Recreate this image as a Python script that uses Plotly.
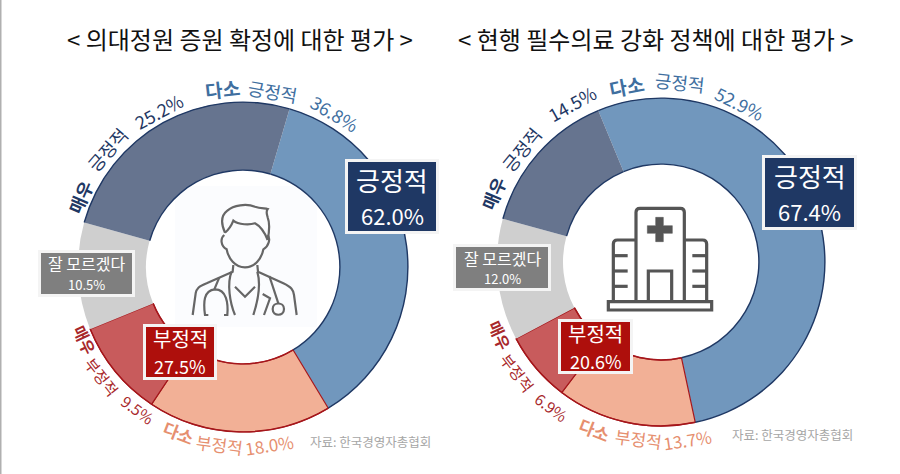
import math
import re
import plotly.graph_objects as go

W, H = 900, 474
categories = ["다소 긍정적", "다소 부정적", "매우 부정적", "잘 모르겠다", "매우 긍정적"]
left_values = [36.8, 18.0, 9.5, 10.5, 25.2]
right_values = [52.9, 13.7, 6.9, 12.0, 14.5]
left_title = "< 의대정원 증원 확정에 대한 평가 >"
right_title = "< 현행 필수의료 강화 정책에 대한 평가 >"
source = "자료: 한국경영자총협회"

FONT = "Noto Sans CJK KR"
fills = ["#7197BD", "#F2B096", "#C85B5C", "#CFCFCF", "#66748F"]
NAVY, RED = "#1F3864", "#A5161B"
CLEAR = "rgba(0,0,0,0)"
ring_colors = [NAVY, RED, RED, CLEAR, NAVY]
txt_colors = {"up": "#3F6F9F", "top": "#1F3864", "low": "#A8282B", "ow": "#E68F6F"}


def domain(cx, cy, r):
    return dict(x=[(cx - r) / W, (cx + r) / W], y=[1 - (cy + r) / H, 1 - (cy - r) / H])


def donut(values, cx, cy, r_out, r_in, rot):
    traces = [go.Pie(labels=categories, values=values, sort=False, direction="clockwise", rotation=rot,
                     hole=r_in / r_out, domain=domain(cx, cy, r_out), textinfo="none", showlegend=False,
                     hoverinfo="label+value",
                     marker=dict(colors=fills, line=dict(color=["#7197BD", RED, RED, "#CFCFCF", "#66748F"],
                                                         width=[0, 1.2, 1.2, 0, 0])))]
    for r in (r_out + 0.6, r_in + 0.6):
        traces.append(go.Pie(labels=categories, values=values, sort=False, direction="clockwise", rotation=rot,
                             hole=(r - 1.4) / r, domain=domain(cx, cy, r), textinfo="none", showlegend=False,
                             hoverinfo="skip", marker=dict(colors=ring_colors, line=dict(width=0))))
    return traces


L = (243, 267, 165, 97, 16.4)
R = (661, 262, 164, 98, -22.5)
fig = go.Figure(donut(left_values, *L) + donut(right_values, *R))

ann = []


def text(x, y, t, size, color, angle=0, weight=None):
    if weight:
        t = f"<b>{t}</b>"
    ann.append(dict(x=x, y=y, xref="x", yref="y", text=t, showarrow=False, textangle=angle,
                    font=dict(family=FONT, size=size, color=color), xanchor="center", yanchor="middle"))


def arc(center, d, pos, t, size, color, weight=None, bottom=False):
    cx, cy = center
    a = math.radians(pos)
    if bottom:
        text(cx - d * math.sin(a), cy + d * math.cos(a), t, size, color, pos, weight)
    else:
        text(cx + d * math.sin(a), cy - d * math.cos(a), t, size, color, pos, weight)


c = (243, 267)
arc(c, 180, -6.4, "다소", 19, txt_colors["up"], True)
arc(c, 179, 9.7, "긍정적", 18, txt_colors["up"])
arc(c, 179, 30.8, "36.8%", 18, txt_colors["up"])
arc(c, 177, -66.8, "매우", 18, txt_colors["top"], True)
arc(c, 180, -49, "긍정적", 18, txt_colors["top"])
arc(c, 177, -28.5, "25.2%", 18, txt_colors["top"])
arc(c, 178, 21.2, "다소", 17, txt_colors["ow"], True, True)
arc(c, 179, 7.4, "부정적", 17, txt_colors["ow"], None, True)
arc(c, 180, -8.6, "18.0%", 17, txt_colors["ow"], None, True)
arc(c, 174, 65.2, "매우", 16, txt_colors["low"], True, True)
arc(c, 178, 52, "부정적", 15.5, txt_colors["low"], None, True)
arc(c, 177, 36.5, "9.5%", 15.5, txt_colors["low"], None, True)

c = (661, 262)
arc(c, 180, -10.9, "다소", 19, txt_colors["up"], True)
arc(c, 181, 6, "긍정적", 18, txt_colors["up"])
arc(c, 177.5, 26.4, "52.9%", 18, txt_colors["up"])
arc(c, 181, -67.7, "매우", 18, txt_colors["top"], True)
arc(c, 180, -51, "긍정적", 18, txt_colors["top"])
arc(c, 182, -29.2, "14.5%", 18, txt_colors["top"])
arc(c, 180, 21.6, "다소", 17, txt_colors["ow"], True, True)
arc(c, 178, 7.4, "부정적", 17, txt_colors["ow"], None, True)
arc(c, 179, -8.4, "13.7%", 17, txt_colors["ow"], None, True)
arc(c, 177, 65.6, "매우", 16, txt_colors["low"], True, True)
arc(c, 181.5, 52.5, "부정적", 15.5, txt_colors["low"], None, True)
arc(c, 181, 37, "6.9%", 15.5, txt_colors["low"], None, True)

text(240, 38, left_title, 24, "#111111")
text(655.5, 38, right_title, 24, "#111111")
text(370, 441, source, 12.5, "#A6A6A6")
text(792.5, 434, source, 12.5, "#A6A6A6")

shapes = [dict(type="rect", x0=0, x1=1.5, y0=0, y1=H, line=dict(width=0), fillcolor="#B0B0B0", layer="above"),
          dict(type="rect", x0=175, x1=317, y0=186, y1=327, line=dict(width=0), fillcolor="#FBFCFE", layer="below")]


def box(x0, y0, x1, y1, fill):
    shapes.append(dict(type="rect", x0=x0 + 1.5, y0=y0 + 1.5, x1=x1 - 1.5, y1=y1 - 1.5, fillcolor=fill,
                       line=dict(color="#F4F4F4", width=3), layer="above"))


box(345, 159, 439, 234, "#1F3864")
text(392, 179.5, "긍정적", 26, "white")
text(392, 215, "62.0%", 22, "white")
box(762, 155, 857, 230, "#1F3864")
text(809.5, 175.5, "긍정적", 26, "white")
text(809.5, 211, "67.4%", 22, "white")
box(38, 250, 135, 297, "#7F7F7F")
text(86.5, 263, "잘 모르겠다", 16, "white")
text(86.5, 284, "10.5%", 13, "white")
box(453, 244, 551, 291, "#7F7F7F")
text(502, 258, "잘 모르겠다", 16, "white")
text(502, 278, "12.0%", 13, "white")
box(143, 324, 217, 380, "#AE0F0C")
text(180, 338, "부정적", 20, "white")
text(180, 366, "27.5%", 18, "white")
box(558, 319, 633, 374, "#AE0F0C")
text(595.5, 333, "부정적", 20, "white")
text(595.5, 361, "20.6%", 18, "white")


def icon(path, ox, oy, color, width, fill=None):
    nums = iter(re.findall(r"[A-Za-z]|-?\d+\.?\d*", path))
    out, is_x = [], True
    for tok in nums:
        if tok.isalpha():
            out.append(tok)
            is_x = True
        else:
            out.append(f"{float(tok) / 3 + (ox if is_x else oy):.2f}")
            is_x = not is_x
    d = dict(type="path", path=" ".join(out), line=dict(color=color, width=width), layer="above")
    d["fillcolor"] = fill if fill else CLEAR
    shapes.append(d)


doctor = [
    "M165,128 C150,95 155,75 172,62 C190,45 230,40 255,50 C270,55 285,55 293,57 C287,65 290,70 293,82 C300,100 298,125 293,150",
    "M165,128 C175,120 185,105 190,92 C205,105 240,105 255,100 C270,108 285,130 293,150",
    "M163,135 C150,145 152,168 170,178 C175,205 195,232 225,232 C255,232 275,205 280,178 C297,168 302,145 293,135",
    "M190,225 L188,245 L110,280 C85,290 80,295 77,310 L68,375",
    "M262,225 L264,245 L340,280 C365,292 370,300 372,315 L380,375",
    "M185,245 C170,280 180,340 195,375",
    "M262,245 C272,280 268,320 250,375",
    "M195,290 L225,320 L255,290",
    "M148,262 L133,298",
    "M115,375 L105,375 C100,340 100,300 135,298 C170,298 175,340 172,375 L162,375",
    "M298,258 L325,340",
    "M278,312 L300,325 L282,375",
    "M308,357 C308,335 342,335 342,357 C342,380 308,380 308,357",
]
for p in doctor:
    icon(p, 170, 190, "#666666", 2.2)

hospital = [
    "M40,320 L350,320 L350,345 L40,345 Z",
    "M123,320 L123,52 Q123,40 135,40 L256,40 Q268,40 268,52 L268,320",
    "M123,135 L67,135 Q55,135 55,147 L55,320",
    "M268,135 L323,135 Q335,135 335,147 L335,320",
    "M55,182 L98,182", "M55,228 L98,228", "M55,274 L98,274",
    "M292,182 L335,182", "M292,228 L335,228", "M292,274 L335,274",
    "M160,320 L160,228 L230,228 L230,320",
]
for p in hospital:
    icon(p, 595, 195, "#555555", 3.2)
icon("M182,67 L205,67 L205,92 L232,92 L232,115 L205,115 L205,140 L182,140 L182,115 L157,115 L157,92 L182,92 Z",
     595, 195, "#555555", 0.5, "#555555")

fig.update_layout(width=W, height=H, margin=dict(l=0, r=0, t=0, b=0), paper_bgcolor="white", plot_bgcolor="rgba(0,0,0,0)",
                  xaxis=dict(range=[0, W], visible=False, fixedrange=True),
                  yaxis=dict(range=[H, 0], visible=False, fixedrange=True),
                  annotations=ann, shapes=shapes, showlegend=False)
fig.write_html("out.html", post_script="document.body.style.margin='0';", config=dict(displayModeBar=False))
